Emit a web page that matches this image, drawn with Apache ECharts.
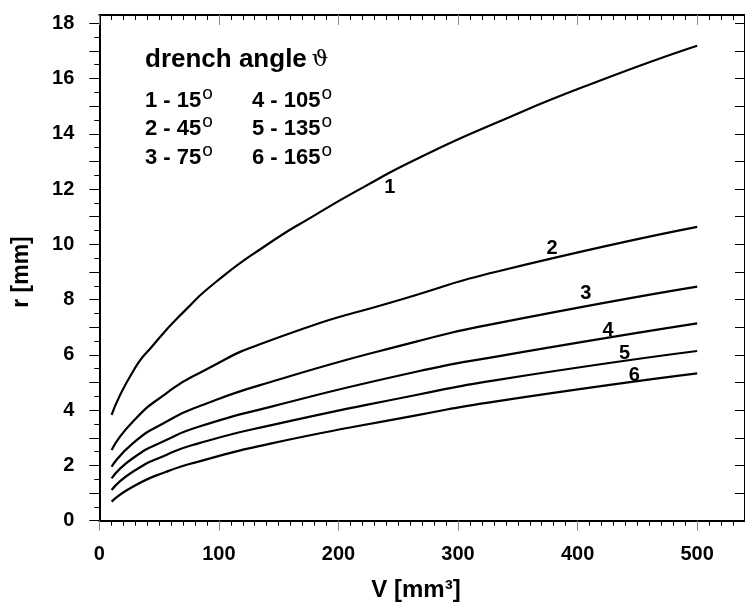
<!DOCTYPE html>
<html><head><meta charset="utf-8">
<script src="https://cdn.jsdelivr.net/npm/echarts@6/dist/echarts.min.js"></script>
<style>html,body{margin:0;padding:0;background:#fff}#c{width:745px;height:609px}</style>
</head><body><div id="c"></div>
<script>
// ---- data ----
const xTickLabels = [0, 100, 200, 300, 400, 500];
const yTickLabels = [0, 2, 4, 6, 8, 10, 12, 14, 16, 18];
const V1 = [10.3, 28, 45, 72, 97, 139, 180, 221, 265, 332, 414, 500];
const r1 = [3.83, 5.39, 6.35, 7.62, 8.62, 9.95, 11.05, 12.07, 13.08, 14.40, 15.85, 17.19];
const V2to6 = [10.3, 28, 56, 83, 144, 265, 332, 500];
const r2 = [2.56, 3.58, 4.61, 5.33, 6.54, 8.17, 9.01, 10.63];
const r3 = [1.95, 2.80, 3.58, 4.13, 5.03, 6.48, 7.14, 8.47];
const r4 = [1.53, 2.26, 2.92, 3.40, 4.13, 5.39, 5.94, 7.14];
const r5 = [1.11, 1.77, 2.38, 2.80, 3.46, 4.55, 5.09, 6.14];
const r6 = [0.69, 1.23, 1.77, 2.14, 2.80, 3.81, 4.32, 5.33];
const curveNames = ['1', '2', '3', '4', '5', '6'];
const curveLabelV = [243, 378.6, 406.8, 425.5, 439.3, 447.5];
const curveLabelR = [12.05, 9.86, 8.23, 6.90, 6.06, 5.24];
const legendTitle = 'drench angle';
const legendSymbol = 'ϑ';
const legendCol1 = ['1 - 15', '2 - 45', '3 - 75'];
const legendCol2 = ['4 - 105', '5 - 135', '6 - 165'];
const xAxisTitle = 'V [mm³]';
const yAxisTitle = 'r [mm]';

// ---- tick sets ----
const X_MAX = 540, Y_MAX = 18.3;
const xMinor = []; for (let v = 0; v <= 530; v += 10) if (v % 100 !== 0) xMinor.push(v);
const xMajor = xTickLabels.slice();
const yMajor = []; for (let v = 0; v <= 18; v += 1) yMajor.push(v);
const yMinor = []; for (let v = 0.5; v < 18.3; v += 1) yMinor.push(v);

const FONT = '"Liberation Sans", Arial, sans-serif';
const chart = echarts.init(document.getElementById('c'), null, {renderer: 'canvas'});

function xAx(pos, ticks, len, color, inside, showLine, showLabel) {
  return {
    type: 'value', min: 0, max: X_MAX, position: pos,
    axisLine: {show: showLine, onZero: false, lineStyle: {color: '#000', width: 2}},
    axisTick: {show: true, customValues: ticks, length: len, inside: inside, lineStyle: {color: color, width: 1}},
    axisLabel: showLabel ? {show: true, customValues: xTickLabels, margin: 24, color: '#000', fontFamily: FONT, fontWeight: 'bold', fontSize: 20} : {show: false},
    splitLine: {show: false}
  };
}
function yAx(pos, ticks, len, color, inside, showLine, showLabel) {
  return {
    type: 'value', min: 0, max: Y_MAX, position: pos,
    axisLine: {show: showLine, onZero: false, lineStyle: {color: '#000', width: 2}},
    axisTick: {show: true, customValues: ticks, length: len, inside: inside, lineStyle: {color: color, width: 1}},
    axisLabel: showLabel ? {show: true, customValues: yTickLabels, margin: 25, color: '#000', fontFamily: FONT, fontWeight: 'bold', fontSize: 20} : {show: false},
    splitLine: {show: false}
  };
}

function lineSeries(xs, ys) {
  return {
    type: 'line', xAxisIndex: 0, yAxisIndex: 0,
    data: xs.map((v, i) => [v, ys[i]]),
    showSymbol: false, symbol: 'none', smooth: 0.6,
    lineStyle: {color: '#000', width: 2.2}, silent: true, z: 5
  };
}

// measure text for superscript placement
const ctx = document.createElement('canvas').getContext('2d');
function tw(t, font) { ctx.font = font; return ctx.measureText(t).width; }

const LEG_FONT = 'bold 22px "Liberation Sans"';
const TITLE_FONT = 'bold 26px "Liberation Sans"';
const legX1 = 145, legX2 = 252;
const legMid = [101.4, 129.4, 158.1];
const graphics = [];
graphics.push({type: 'text', style: {text: legendTitle, x: 145, y: 59.5, font: TITLE_FONT, fill: '#000', verticalAlign: 'middle'}});
graphics.push({type: 'text', style: {text: legendSymbol, x: 145 + tw(legendTitle, TITLE_FONT) + 5, y: 60, font: '23px "DejaVu Serif"', fill: '#000', verticalAlign: 'middle'}});
[legendCol1, legendCol2].forEach((col, ci) => {
  const x0 = ci === 0 ? legX1 : legX2;
  col.forEach((t, i) => {
    graphics.push({type: 'text', style: {text: t, x: x0, y: legMid[i], font: LEG_FONT, fill: '#000', verticalAlign: 'middle'}});
    graphics.push({type: 'text', style: {text: 'o', x: x0 + tw(t, LEG_FONT) + 1, y: legMid[i] - 7.5, font: '19px "Liberation Sans"', fill: '#000', verticalAlign: 'middle'}});
  });
});
graphics.push({type: 'text', rotation: Math.PI / 2, x: 22, y: 272, style: {text: yAxisTitle, x: 0, y: 0, font: 'bold 23px "Liberation Sans"', fill: '#000', align: 'center', verticalAlign: 'middle'}});
graphics.push({type: 'text', x: 416, y: 590, style: {text: xAxisTitle, x: 0, y: 0, font: 'bold 24px "Liberation Sans"', fill: '#000', align: 'center', verticalAlign: 'middle'}});

const option = {
  animation: false,
  backgroundColor: '#fff',
  grid: {left: 99.3, top: 15, width: 652.3, height: 505.7, containLabel: false, show: false},
  xAxis: [
    xAx('bottom', xMajor, 10, '#8a8a8a', false, true, true),
    xAx('bottom', xMinor, 5, '#000', false, false, false),
    xAx('top', xMinor, 5, '#000', true, true, false),
    xAx('top', xMajor, 10, '#8a8a8a', true, false, false)
  ],
  yAxis: [
    yAx('left', yMajor, 10, '#000', false, true, true),
    yAx('left', yMinor, 5, '#000', false, false, false),
    yAx('right', yMajor, 10, '#000', true, true, false)
  ],
  series: [
    lineSeries(V1, r1), lineSeries(V2to6, r2), lineSeries(V2to6, r3),
    lineSeries(V2to6, r4), lineSeries(V2to6, r5), lineSeries(V2to6, r6),
    {
      type: 'scatter', xAxisIndex: 0, yAxisIndex: 0, symbolSize: 0, silent: true, z: 6,
      itemStyle: {opacity: 1},
      data: curveNames.map((n, i) => ({name: n, value: [curveLabelV[i], curveLabelR[i]]})),
      label: {show: true, position: 'inside', opacity: 1, formatter: p => p.name, color: '#000', textBorderWidth: 0, fontFamily: FONT, fontWeight: 'bold', fontSize: 20}
    }
  ],
  graphic: graphics
};
chart.setOption(option);
</script>
</body></html>
